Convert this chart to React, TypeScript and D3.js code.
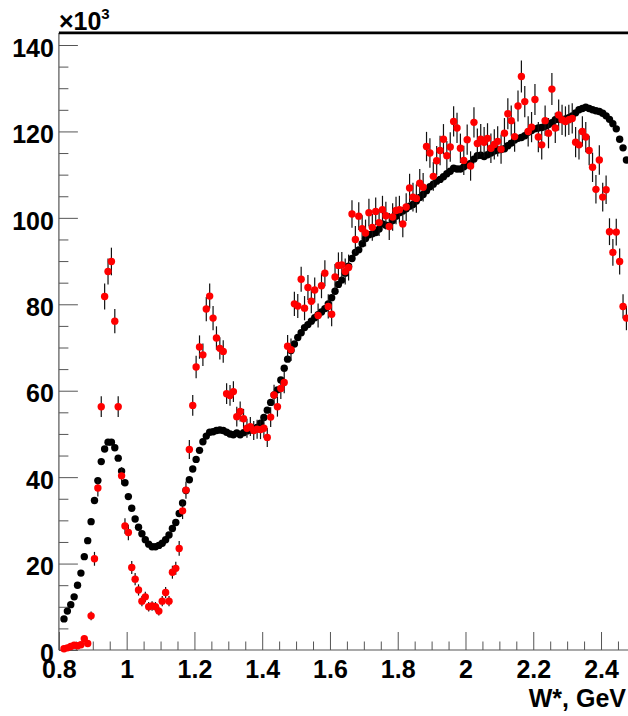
import { useEffect, useRef } from 'react';
import * as d3 from 'd3';

// histogram binning, W* in GeV
const binLow = 0.81;
const binWidth = 0.01;

// black points (model), one value per bin, units of 10^3
const modelValues = [
  7.2, 9.0, 10.5, 12.3, 15.0, 17.8, 21.6, 25.3, 29.7, 34.6,
  39.2, 43.6, 46.5, 48.1, 48.1, 46.8, 44.4, 41.4, 38.7, 35.5,
  32.8, 30.3, 28.4, 26.9, 25.5, 24.5, 23.9, 23.9, 24.2, 24.7,
  25.5, 26.6, 28.1, 29.5, 31.6, 34.0, 36.9, 39.4, 41.9, 44.1,
  46.2, 48.2, 49.5, 50.4, 50.5, 50.8, 50.9, 50.8, 50.4, 50.0,
  49.8, 50.2, 49.8, 50.3, 50.7, 50.9, 51.2, 51.5, 52.5, 53.8,
  55.5, 57.3, 59.0, 60.2, 62.5, 65.2, 67.3, 69.3, 70.8, 72.3,
  73.4, 74.6, 75.3, 76.1, 76.9, 77.6, 78.2, 79.0, 80.1, 81.5,
  83.0, 84.6, 85.6, 87.2, 88.8, 90.6, 92.0, 92.6, 94.0, 95.2,
  96.1, 96.3, 96.6, 97.4, 98.6, 98.3, 98.2, 99.4, 100.4, 101.2,
  101.6, 102.1, 102.7, 103.1, 103.9, 104.7, 105.4, 106.3, 107.2, 107.8,
  108.5, 108.9, 109.5, 110.2, 110.8, 111.5, 111.3, 111.3, 111.8, 112.3,
  112.6, 113.6, 114.4, 114.5, 114.2, 114.6, 115.0, 115.5, 115.7, 115.8,
  116.0, 116.7, 117.3, 118.0, 118.4, 118.6, 119.0, 119.8, 120.2, 120.6,
  120.8, 120.9, 121.2, 121.6, 122.0, 122.7, 122.8, 122.8, 122.9, 123.2,
  123.6, 124.3, 125.0, 125.3, 125.6, 125.3, 125.0, 124.8, 124.6, 124.2,
  123.6, 122.8, 121.8, 120.6, 118.2, 116.2, 113.4,
];

// red points (data) with their errors
const dataValues = [
  0.3, 0.5, 0.8, 1.1, 1.0, 1.2, 2.6, 1.5, 7.9, 21.1,
  37.5, 56.3, 81.8, 87.6, 89.9, 76.1, 56.3, 40.3, 28.7, 27.2,
  19.1, 16.4, 13.9, 11.3, 12.3, 10.0, 10.2, 10.0, 9.0, 11.3,
  13.3, 11.3, 18.0, 18.9, 23.5, 32.2, 37.0, 46.4, 56.6, 65.5,
  70.1, 68.3, 78.9, 81.9, 76.8, 72.2, 69.8, 69.1, 59.3, 58.9,
  59.8, 54.0, 55.2, 53.5, 51.3, 51.7, 50.8, 51.1, 51.0, 51.3,
  49.2, 53.9, 59.0, 56.3, 60.5, 61.9, 70.3, 69.5, 80.1, 79.6,
  85.8, 79.1, 83.9, 80.7, 83.3, 77.4, 84.3, 87.2, 79.5, 77.7,
  86.3, 89.0, 89.1, 87.6, 88.5, 100.9, 95.0, 100.4, 97.5, 96.5,
  101.2, 97.8, 101.5, 98.9, 101.9, 100.5, 98.0, 100.2, 101.7, 101.9,
  98.6, 102.5, 106.9, 104.8, 104.5, 108.0, 107.1, 116.5, 115.0, 109.6,
  113.2, 115.6, 118.2, 114.4, 116.4, 122.3, 120.8, 116.1, 113.3, 118.1,
  112.0, 122.1, 117.2, 118.2, 117.5, 118.4, 116.1, 117.0, 117.7, 115.9,
  119.6, 124.1, 122.5, 118.8, 125.9, 132.7, 126.9, 120.0, 121.0, 127.4,
  118.7, 116.9, 122.5, 119.6, 129.8, 120.8, 123.8, 122.7, 122.3, 122.7,
  123.0, 117.5, 116.9, 120.0, 118.7, 115.6, 111.7, 106.6, 113.4, 104.8,
  106.5, 96.8, 92.0, 96.7, 89.9, 79.5, 76.8,
];

const dataErrors = [
  0.4, 0.4, 0.5, 0.5, 0.5, 0.5, 0.7, 0.6, 1.0, 1.6,
  2.0, 2.4, 3.0, 3.0, 3.2, 2.8, 2.4, 2.0, 1.8, 1.8,
  1.5, 1.4, 1.3, 1.2, 1.2, 1.1, 1.1, 1.1, 1.0, 1.2,
  1.3, 1.2, 1.5, 1.5, 1.7, 1.9, 2.0, 2.2, 2.4, 2.6,
  2.7, 2.6, 2.8, 2.9, 2.8, 2.7, 2.6, 2.6, 2.4, 2.4,
  2.4, 2.3, 2.3, 2.3, 2.2, 2.2, 2.2, 2.2, 2.2, 2.2,
  2.2, 2.3, 2.4, 2.3, 2.4, 2.5, 2.6, 2.6, 2.8, 2.8,
  2.9, 2.8, 2.9, 2.8, 2.9, 2.8, 2.9, 3.0, 2.8, 2.8,
  3.0, 3.0, 3.0, 3.0, 3.0, 3.2, 3.1, 3.2, 3.1, 3.1,
  3.2, 3.1, 3.2, 3.1, 3.2, 3.2, 3.1, 3.2, 3.2, 3.2,
  3.1, 3.2, 3.3, 3.3, 3.3, 3.3, 3.3, 3.4, 3.4, 3.3,
  3.4, 3.4, 3.5, 3.4, 3.4, 3.5, 3.5, 3.4, 3.4, 3.5,
  3.4, 3.5, 3.5, 3.5, 3.5, 3.5, 3.4, 3.5, 3.5, 3.4,
  3.5, 3.6, 3.5, 3.5, 3.6, 3.7, 3.6, 3.5, 3.5, 3.6,
  3.5, 3.4, 3.5, 3.5, 3.7, 3.5, 3.6, 3.5, 3.5, 3.5,
  3.5, 3.5, 3.4, 3.5, 3.5, 3.4, 3.4, 3.3, 3.4, 3.3,
  3.3, 3.1, 3.1, 3.1, 3.0, 2.8, 2.8,
];

const yTicks = [0, 20, 40, 60, 80, 100, 120, 140];
const xTicks = [0.8, 1.0, 1.2, 1.4, 1.6, 1.8, 2.0, 2.2, 2.4];
const xTickLabels = ['0.8', '1', '1.2', '1.4', '1.6', '1.8', '2', '2.2', '2.4'];

const binCenter = (i: number) => binLow + binWidth * (i + 0.5);

export default function App() {
  const svgRef = useRef<SVGSVGElement>(null);

  useEffect(() => {
    if (!svgRef.current) return;
    const svg = d3.select(svgRef.current);
    svg.selectAll('*').remove();

    const width = 628;
    const height = 716;
    const font = "'Liberation Sans', Arial, sans-serif";
    const axisColor = '#555';

    svg.attr('width', width).attr('height', height);

    const x = d3.scaleLinear().domain([0.8, 2.5]).range([58.9, 634.9]);
    const y = d3.scaleLinear().domain([0, 140]).range([650, 45]);
    const yTop = 142.8;

    svg.append('rect').attr('width', width).attr('height', height).attr('fill', 'white');

    // minor ticks
    const yMinor = d3.range(0, yTop, 5).filter((v) => v % 20 !== 0);
    const xMinor = d3.range(0.8, 2.5, 0.05).filter((v) => Math.abs(v * 5 - Math.round(v * 5)) > 1e-6);

    const yMinorAxis = svg
      .append('g')
      .attr('transform', `translate(${x(0.8)},0)`)
      .call(d3.axisLeft(y).tickValues(yMinor).tickSize(-9.5).tickSizeOuter(0).tickFormat(() => ''));
    yMinorAxis.select('.domain').remove();
    yMinorAxis.selectAll('line').attr('stroke', axisColor);

    const xMinorAxis = svg
      .append('g')
      .attr('transform', `translate(0,${y(0)})`)
      .call(d3.axisBottom(x).tickValues(xMinor).tickSize(-8.5).tickSizeOuter(0).tickFormat(() => ''));
    xMinorAxis.select('.domain').remove();
    xMinorAxis.selectAll('line').attr('stroke', axisColor);

    // major ticks + labels
    const yAxis = svg
      .append('g')
      .attr('transform', `translate(${x(0.8)},0)`)
      .call(d3.axisLeft(y).tickValues(yTicks).tickSize(-19).tickSizeOuter(0).tickPadding(5));
    yAxis.select('.domain').remove();
    yAxis.selectAll('line').attr('stroke', axisColor);
    yAxis
      .selectAll('text')
      .attr('dy', '0.45em')
      .attr('font-family', font)
      .attr('font-size', 25)
      .attr('font-weight', 'bold')
      .attr('fill', '#000');

    const xAxis = svg
      .append('g')
      .attr('transform', `translate(0,${y(0)})`)
      .call(
        d3
          .axisBottom(x)
          .tickValues(xTicks)
          .tickSize(-18)
          .tickSizeOuter(0)
          .tickPadding(10)
          .tickFormat((_, i) => xTickLabels[i])
      );
    xAxis.select('.domain').remove();
    xAxis.selectAll('line').attr('stroke', axisColor);
    xAxis
      .selectAll('text')
      .attr('font-family', font)
      .attr('font-size', 25)
      .attr('font-weight', 'bold')
      .attr('fill', '#000');

    // axis lines and frame top
    svg
      .append('line')
      .attr('x1', x(0.8))
      .attr('x2', x(0.8))
      .attr('y1', y(0))
      .attr('y2', y(yTop))
      .attr('stroke', axisColor)
      .attr('stroke-width', 1.2);
    svg
      .append('line')
      .attr('x1', x(0.8))
      .attr('x2', x(2.5))
      .attr('y1', y(0))
      .attr('y2', y(0))
      .attr('stroke', axisColor)
      .attr('stroke-width', 1.2);
    svg
      .append('line')
      .attr('x1', x(0.8))
      .attr('x2', x(2.5))
      .attr('y1', y(yTop))
      .attr('y2', y(yTop))
      .attr('stroke', '#000')
      .attr('stroke-width', 2.7);

    // model points
    svg
      .append('g')
      .selectAll('circle')
      .data(modelValues)
      .join('circle')
      .attr('cx', (_, i) => x(binCenter(i)))
      .attr('cy', (d) => y(d))
      .attr('r', 3.7)
      .attr('fill', '#000');

    // data error bars
    svg
      .append('g')
      .selectAll('line')
      .data(dataValues)
      .join('line')
      .attr('x1', (_, i) => x(binCenter(i)))
      .attr('x2', (_, i) => x(binCenter(i)))
      .attr('y1', (d, i) => y(Math.max(0, d - dataErrors[i])))
      .attr('y2', (d, i) => y(d + dataErrors[i]))
      .attr('stroke', '#111')
      .attr('stroke-width', 1.2);

    // data points
    svg
      .append('g')
      .selectAll('circle')
      .data(dataValues)
      .join('circle')
      .attr('cx', (_, i) => x(binCenter(i)))
      .attr('cy', (d) => y(d))
      .attr('r', 3.7)
      .attr('fill', '#ff0000');

    // exponent label
    const expo = svg
      .append('text')
      .attr('x', x(0.8))
      .attr('y', 30)
      .attr('font-family', font)
      .attr('font-size', 25)
      .attr('font-weight', 'bold')
      .attr('fill', '#000');
    expo.append('tspan').text('\u00d710');
    expo.append('tspan').attr('font-size', 15).attr('dy', -11).text('3');

    // axis title
    svg
      .append('text')
      .attr('x', 626)
      .attr('y', 707)
      .attr('text-anchor', 'end')
      .attr('font-family', font)
      .attr('font-size', 25)
      .attr('font-weight', 'bold')
      .attr('fill', '#000')
      .text('W*, GeV');
  }, []);

  return (
    <svg
      ref={svgRef}
      style={{ position: 'absolute', left: 0, top: 0, display: 'block' }}
    ></svg>
  );
}
